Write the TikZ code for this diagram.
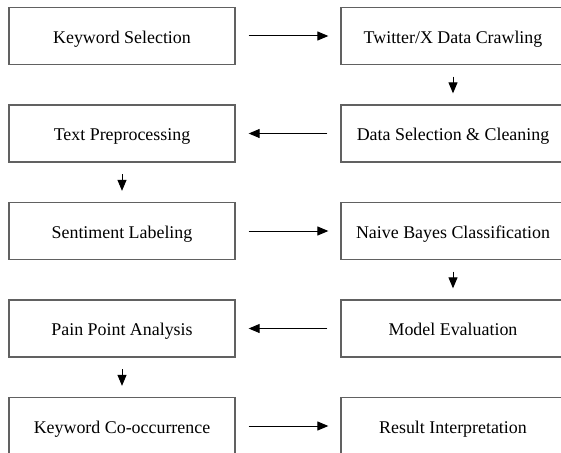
\documentclass[tikz,border=0pt]{standalone}
\usepackage{fontspec}
\setmainfont{Liberation Serif}
\usetikzlibrary{arrows.meta}
\begin{document}
\begin{tikzpicture}[x=1pt,y=-1pt,
  box/.style={draw=black!62,line width=1.3pt,rectangle,minimum height=57pt,inner sep=0pt,
    text height=17pt,text depth=2.5pt,
    font=\fontsize{17.9}{20}\selectfont,text=black},
  lbox/.style={box,minimum width=226pt},
  rbox/.style={box,minimum width=224pt},
  flow/.style={-{Triangle[length=11pt,width=9pt]},line width=1pt,black}]
\useasboundingbox (0,0) rectangle (561,452);
\fill[white] (0,0) rectangle (561,452);
\node[lbox] (ks) at (122,36) {Keyword Selection};
\node[rbox] (tw) at (453,36) {Twitter/X Data Crawling};
\node[lbox] (tp) at (122,133.5) {Text Preprocessing};
\node[rbox] (ds) at (453,133.5) {Data Selection \& Cleaning};
\node[lbox] (sl) at (122,231) {Sentiment Labeling};
\node[rbox] (nb) at (453,231) {Naive Bayes Classification};
\node[lbox] (pp) at (122,328.5) {Pain Point Analysis};
\node[rbox] (me) at (453,328.5) {Model Evaluation};
\node[lbox] (kc) at (122,426) {Keyword Co-occurrence};
\node[rbox] (ri) at (453,426) {Result Interpretation};
\draw[flow,shorten <=13pt,shorten >=12pt] (ks.east) -- (tw.west);
\draw[flow,shorten <=11.5pt,shorten >=11pt] (tw.south) -- (ds.north);
\draw[flow,shorten <=13pt,shorten >=13pt] (ds.west) -- (tp.east);
\draw[flow,shorten <=11.5pt,shorten >=11pt] (tp.south) -- (sl.north);
\draw[flow,shorten <=13pt,shorten >=12pt] (sl.east) -- (nb.west);
\draw[flow,shorten <=11.5pt,shorten >=11pt] (nb.south) -- (me.north);
\draw[flow,shorten <=13pt,shorten >=13pt] (me.west) -- (pp.east);
\draw[flow,shorten <=11.5pt,shorten >=11pt] (pp.south) -- (kc.north);
\draw[flow,shorten <=13pt,shorten >=12pt] (kc.east) -- (ri.west);
\end{tikzpicture}
\end{document}
